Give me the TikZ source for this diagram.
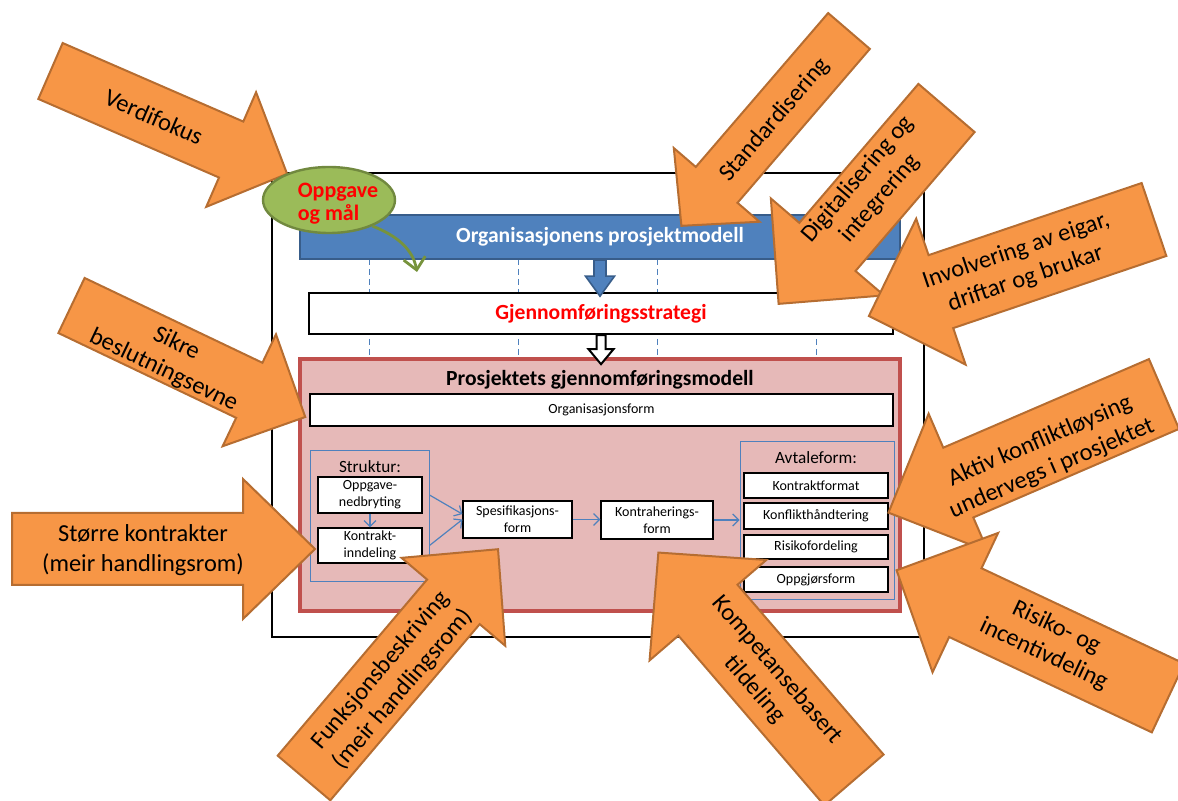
\documentclass[tikz,border=0pt]{standalone}
\usepackage{fontspec}
\setmainfont{Carlito}
\usetikzlibrary{shapes.geometric,arrows.meta,calc}

\definecolor{orfill}{HTML}{F79646}
\definecolor{ordraw}{HTML}{B66D31}
\definecolor{accblue}{HTML}{4F81BD}
\definecolor{darkblue}{HTML}{385D8A}
\definecolor{pinkfill}{HTML}{E6B9B8}
\definecolor{pinkdraw}{HTML}{C0504D}
\definecolor{olivefill}{HTML}{9BBB59}
\definecolor{olivedraw}{HTML}{71893F}
\definecolor{olivearrow}{HTML}{77933C}
\definecolor{txtred}{HTML}{FF0000}

\tikzset{
  % block arrow pointing along local +x: length, half shaft, half head, head length, style
  pics/blockarrow/.style n args={5}{code={
    \path[#5] (0,-#2) -- ({#1-#4},-#2) -- ({#1-#4},-#3) -- (#1,0)
       -- ({#1-#4},#3) -- ({#1-#4},#2) -- (0,#2) -- cycle;
  }},
  orangearrow/.style={fill=orfill, draw=ordraw, line width=1pt, line join=miter},
  bluearrow/.style={fill=accblue, draw=darkblue, line width=0.8pt},
  whitearrow/.style={fill=white, draw=black, line width=1pt},
  orangetext/.style={font=\fontsize{12.2}{14.8}\selectfont, align=center, inner sep=0pt},
  smallbox/.style={draw=black, line width=0.6pt, fill=white, inner sep=0pt, align=center,
                   font=\fontsize{7}{8.6}\selectfont},
  groupbox/.style={draw=accblue, line width=0.5pt, inner sep=0pt},
  grouphead/.style={font=\fontsize{8.6}{10}\selectfont, inner sep=0pt},
  heading/.style={font=\bfseries\fontsize{10.8}{13}\selectfont, inner sep=0pt},
  flow/.style={draw=accblue, line width=0.6pt, -{Straight Barb[length=3pt,width=6pt]}},
  guide/.style={draw=accblue, line width=0.5pt, dash pattern=on 3pt off 2pt},
}

\begin{document}
\begin{tikzpicture}[x=0.5pt,y=-0.5pt]
\useasboundingbox (0,0) rectangle (1178,801);
\begin{scope}
\clip (0,0) rectangle (1178,801);

% outer frame and dashed guides
\draw[line width=0.6pt] (272,173) rectangle (924,637);
\foreach \gx in {369,518,657,816} \draw[guide] (\gx,259) -- (\gx,360);

% organisation model and strategy
\node[fill=accblue, draw=darkblue, line width=1.2pt, minimum width=300pt, minimum height=22pt,
      inner sep=0pt, text=white, font=\bfseries\fontsize{10.8}{13}\selectfont]
      (bar) at (600,237) {Organisasjonens prosjektmodell};
\node[fill=white, draw=black, line width=1.2pt, minimum width=292pt, minimum height=20.5pt,
      inner sep=0pt, text=txtred, font=\bfseries\fontsize{10.8}{13}\selectfont]
      (strat) at (601,313.5) {Gjennomføringsstrategi};
\pic[rotate=-90] at (bar.south) {blockarrow={36}{6}{14.5}{20}{bluearrow}};

% project execution model
\node[fill=pinkfill, draw=pinkdraw, line width=1.6pt, minimum width=300pt, minimum height=126pt,
      inner sep=0pt] (pink) at (600,485) {};
\pic[rotate=-90] at (strat.south) {blockarrow={29}{4.5}{12.5}{15}{whitearrow}};
\node[heading] (ptitle) at (600,380) {Prosjektets gjennomføringsmodell};
\node[smallbox, minimum width=291.5pt, minimum height=16pt] (orgform) at (601.5,410) {Organisasjonsform};

\node[groupbox, minimum width=59.5pt, minimum height=65.5pt] (sgroup) at (369.5,516.5) {};
\node[grouphead] (shead) at (370,467) {Struktur:};
\node[smallbox, minimum width=52pt, minimum height=18pt] (oppg) at (370,495) {Oppgave-\\nedbryting};
\node[smallbox, minimum width=52pt, minimum height=17.5pt] (kontr) at (370,545.5) {Kontrakt-\\inndeling};
\node[smallbox, minimum width=54.5pt, minimum height=18.5pt] (spes) at (517.5,519.5) {Spesifikasjons-\\form};
\node[smallbox, minimum width=56pt, minimum height=19pt] (kontrah) at (657,520) {Kontraherings-\\form};

\node[groupbox, minimum width=77pt, minimum height=79pt] (agroup) at (817,521) {};
\node[grouphead] (ahead) at (816,458) {Avtaleform:};
\node[smallbox, minimum width=72pt, minimum height=12.5pt] (kformat) at (816,485.5) {Kontraktformat};
\node[smallbox, minimum width=72pt, minimum height=13pt] (konfl) at (816,516) {Konflikthåndtering};
\node[smallbox, minimum width=72pt, minimum height=12pt] (risk) at (816,547) {Risikofordeling};
\node[smallbox, minimum width=72pt, minimum height=12.5pt] (oppgj) at (816,579.5) {Oppgjørsform};

\draw[flow] (oppg.south) -- (kontr.north);
\draw[flow] (sgroup.east |- oppg.east) -- ([yshift=2.7pt]spes.west);
\draw[flow] (sgroup.east |- kontr.east) -- (spes.west);
\draw[flow] (spes.east) -- (kontrah.west |- spes.east);
\draw[flow] (kontrah.east) -- (agroup.west |- kontrah.east);

% influencing factors
\pic[rotate=-23.5] at (50.5,71) {blockarrow={258}{30.5}{62.5}{61}{orangearrow}};
\node[orangetext, rotate=-23.5] (tverdi) at (154,117) {Verdifokus};

\pic[rotate=-130.7] at (849,31) {blockarrow={257}{27.5}{56.5}{54}{orangearrow}};
\node[orangetext, rotate=49.3] (tstand) at (775,120) {Standardisering};

\pic[rotate=-130.6] at (946.5,108) {blockarrow={258}{37}{74.5}{75}{orangearrow}};
\node[orangetext, rotate=49.4] (tdigit) at (869,189) {Digitalisering og\\integrering};

\pic[rotate=-161.3] at (1154,219.5) {blockarrow={301}{38.5}{77}{76}{orangearrow}};
\node[orangetext, rotate=18.7] (tinvol) at (1021,265) {Involvering av eigar,\\driftar og brukar};

\pic[rotate=-25.5] at (71.5,305.5) {blockarrow={259}{30.5}{62}{62}{orangearrow}};
\node[orangetext, rotate=-25.5] (tsikre) at (170,357) {Sikre\\beslutningsevne};

\pic at (12,549) {blockarrow={303}{36}{70}{72}{orangearrow}};
\node[orangetext] (tstorre) at (143,550) {Større kontrakter\\(meir handlingsrom)};

\pic[rotate=-156.7] at (1164,394) {blockarrow={300}{38}{75}{76}{orangearrow}};
\node[orangetext, rotate=23.3] (taktiv) at (1046,455) {Aktiv konfliktløysing\\undervegs i prosjektet};

\pic[rotate=154.8] at (1168,698) {blockarrow={300}{38}{77}{76}{orangearrow}};
\node[orangetext, rotate=-25.2] (trisiko) at (1050,641) {Risiko- og\\incentivdeling};

\pic[rotate=49.7] at (304,778) {blockarrow={300}{34.5}{68}{69}{orangearrow}};
\node[orangetext, rotate=49.7] (tfunks) at (392,680) {Funksjonsbeskriving\\(meir handlingsrom)};

\pic[rotate=130.7] at (854,780) {blockarrow={300}{39}{77}{76}{orangearrow}};
\node[orangetext, rotate=-49.3] (tkompet) at (766,680) {Kompetansebasert\\tildeling};

% task and goal
\node[ellipse, fill=olivefill, draw=olivedraw, line width=1.2pt, minimum width=66pt,
      minimum height=33pt, inner sep=0pt] (oval) at (329,200) {};
\node[text=txtred, font=\bfseries\fontsize{11}{11.6}\selectfont, align=left, inner sep=0pt]
      (ovaltext) at (338,204) {Oppgave\\og mål};
\coordinate (gtip) at (417,272);
\draw[olivearrow, line width=1.4pt, -{Straight Barb[length=6pt,width=11pt]}]
      (oval.-31) .. controls (398,236) and (413,250) .. (gtip);

\end{scope}
\end{tikzpicture}
\end{document}
